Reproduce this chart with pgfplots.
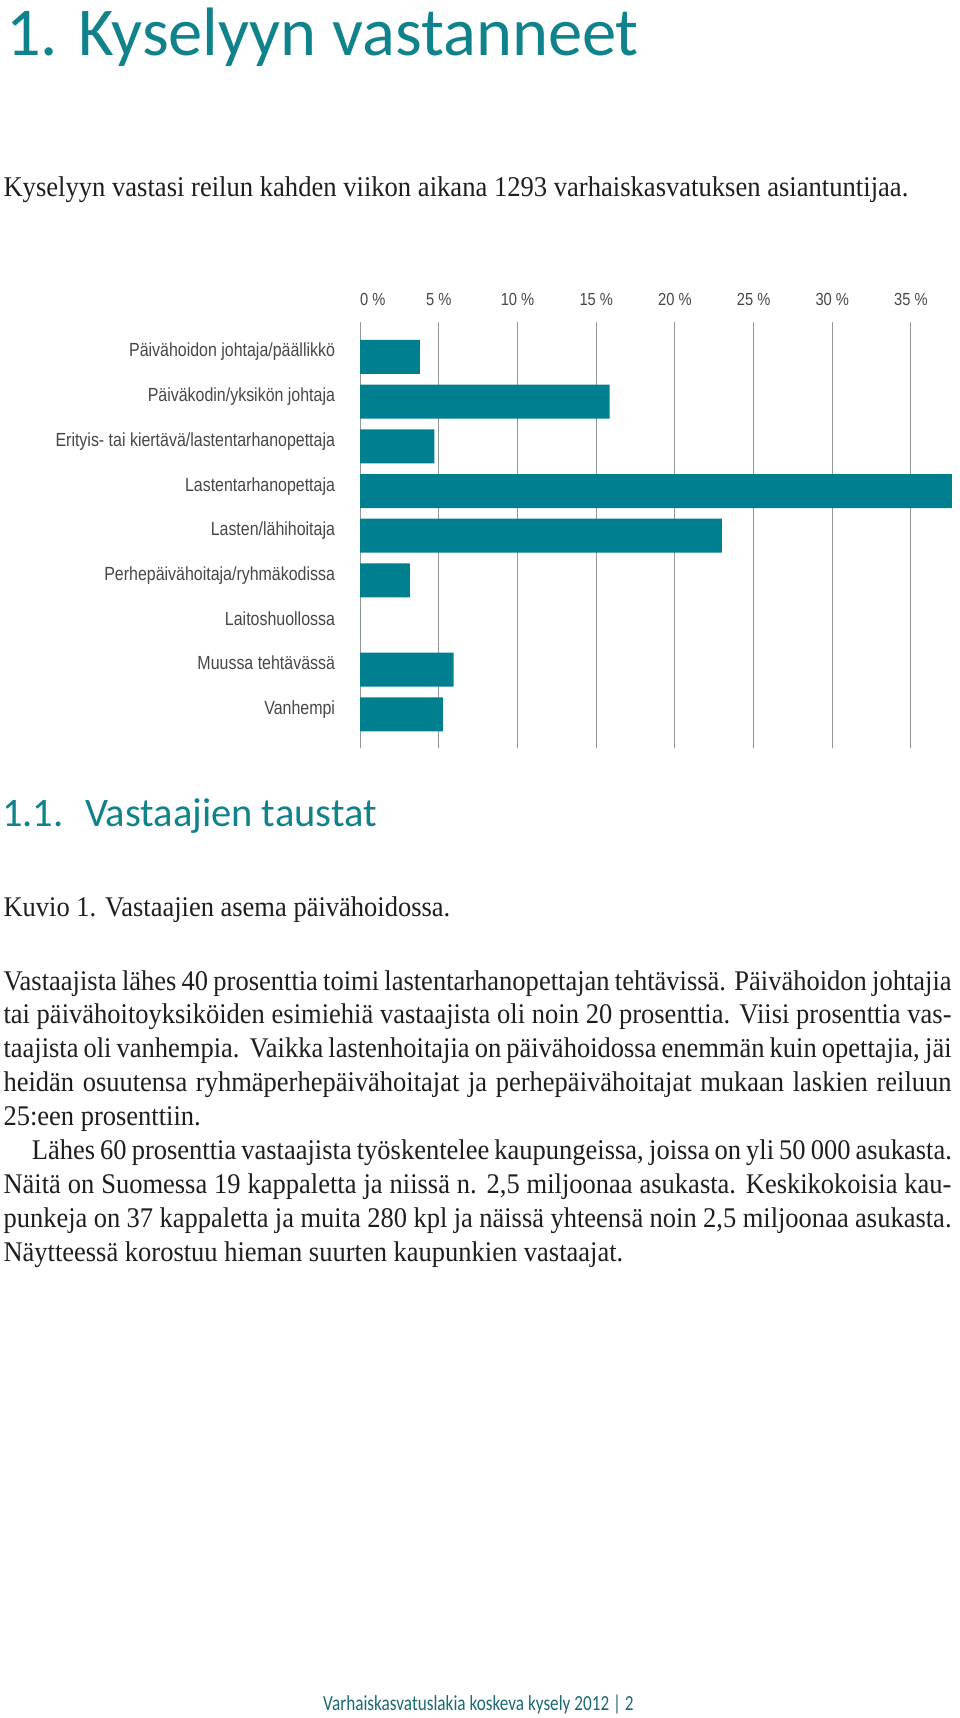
\documentclass[border=0pt]{standalone}
\usepackage{fontspec}
\usepackage{pgfplots}
\pgfplotsset{compat=1.18}
\setmainfont{Liberation Serif}
\newfontfamily\bodyfont{Liberation Serif}[FakeStretch=0.93]
\newfontfamily\headfont{Carlito}
\newfontfamily\footfont{Carlito}[FakeStretch=0.8]
\newfontfamily\labelfont{Liberation Sans}[FakeStretch=0.84]
\definecolor{barteal}{RGB}{0,127,145}
\definecolor{titleteal}{RGB}{16,130,140}
\definecolor{footteal}{RGB}{27,105,115}
\definecolor{gridgray}{RGB}{150,150,150}
\definecolor{labelgray}{RGB}{70,70,70}
\definecolor{bodytext}{RGB}{30,30,30}
\newcommand{\bodyline}[2]{\node[anchor=base west, inner sep=0pt, font=\bodyfont\fontsize{28.5}{34}\selectfont, text=bodytext] at (3.3pt,-#1pt) {#2};}
\begin{document}
\begin{tikzpicture}
\path[use as bounding box] (0pt,0pt) rectangle (960pt,-1718pt);
\begin{axis}[
  at={(360.2pt,-748.3pt)}, anchor=south west,
  scale only axis, width=598pt, height=426.6pt,
  xmin=0, xmax=38, ymin=-8.76, ymax=0.79,
  xbar, bar width=34pt,
  axis line style={draw=none},
  major tick length=0pt,
  xmajorgrids, major grid style={line width=1pt, draw=gridgray},
  xtick={0,5,...,35},
  xticklabels={\makebox[0pt][l]{0 \%},5 \%,10 \%,15 \%,20 \%,25 \%,30 \%,35 \%},
  xticklabel pos=upper,
  xticklabel style={anchor=base, yshift=16.6pt, font=\labelfont\fontsize{17.5}{20}\selectfont, text=labelgray},
  ytick={0,-1,-2,-3,-4,-5,-6,-7,-8},
  yticklabels={Päivähoidon johtaja/päällikkö, Päiväkodin/yksikön johtaja, Erityis- tai kiertävä/lastentarhanopettaja, Lastentarhanopettaja, Lasten/lähihoitaja, Perhepäivähoitaja/ryhmäkodissa, Laitoshuollossa, Muussa tehtävässä, Vanhempi},
  yticklabel style={anchor=base east, inner sep=0pt, xshift=-25pt, font=\labelfont\fontsize{19}{22}\selectfont, text=labelgray},
  clip=false,
]
\addplot[fill=barteal, draw=none] coordinates {(3.79,0) (15.85,-1) (4.72,-2) (37.6,-3) (22.99,-4) (3.16,-5) (0,-6) (5.93,-7) (5.25,-8)};
\end{axis}
\node[anchor=base west, inner sep=0pt, text=titleteal, font=\headfont\fontsize{68.5}{72}\selectfont] at (6pt,-56pt) {1. Kyselyyn vastanneet};
\node[anchor=base west, inner sep=0pt, font=\bodyfont\fontsize{28.6}{34}\selectfont, text=bodytext] at (3.3pt,-196pt) {Kyselyyn vastasi reilun kahden viikon aikana 1293 varhaiskasvatuksen asiantuntijaa.};
\node[anchor=base west, inner sep=0pt, text=titleteal, font=\headfont\fontsize{40.5}{44}\selectfont] at (2pt,-826.7pt) {1.1. \ Vastaajien taustat};
\bodyline{916.7}{Kuvio 1. Vastaajien asema päivähoidossa.}
\bodyline{990}{\makebox[948pt][s]{Vastaajista lähes 40 prosenttia toimi lastentarhanopettajan tehtävissä. Päivähoidon johtajia}}
\bodyline{1023.9}{\makebox[948pt][s]{tai päivähoitoyksiköiden esimiehiä vastaajista oli noin 20 prosenttia. Viisi prosenttia vas-}}
\bodyline{1057.8}{\makebox[948pt][s]{taajista oli vanhempia.\ \ Vaikka lastenhoitajia on päivähoidossa enemmän kuin opettajia, jäi}}
\bodyline{1091.7}{\makebox[948pt][s]{heidän osuutensa ryhmäperhepäivähoitajat ja perhepäivähoitajat mukaan laskien reiluun}}
\bodyline{1125.6}{25:een prosenttiin.}
\node[anchor=base west, inner sep=0pt, font=\bodyfont\fontsize{28.5}{34}\selectfont, text=bodytext] at (31.7pt,-1159.5pt) {\makebox[920pt][s]{Lähes 60 prosenttia vastaajista työskentelee kaupungeissa, joissa on yli 50 000 asukasta.}};
\bodyline{1193.4}{\makebox[948pt][s]{Näitä on Suomessa 19 kappaletta ja niissä n. 2,5 miljoonaa asukasta. Keskikokoisia kau-}}
\bodyline{1227.3}{\makebox[948pt][s]{punkeja on 37 kappaletta ja muita 280 kpl ja näissä yhteensä noin 2,5 miljoonaa asukasta.}}
\bodyline{1261.2}{Näytteessä korostuu hieman suurten kaupunkien vastaajat.}
\node[anchor=base west, inner sep=0pt, text=footteal, font=\footfont\fontsize{21.5}{24}\selectfont] at (323pt,-1710.7pt) {Varhaiskasvatuslakia koskeva kysely 2012 | 2};
\end{tikzpicture}
\end{document}
